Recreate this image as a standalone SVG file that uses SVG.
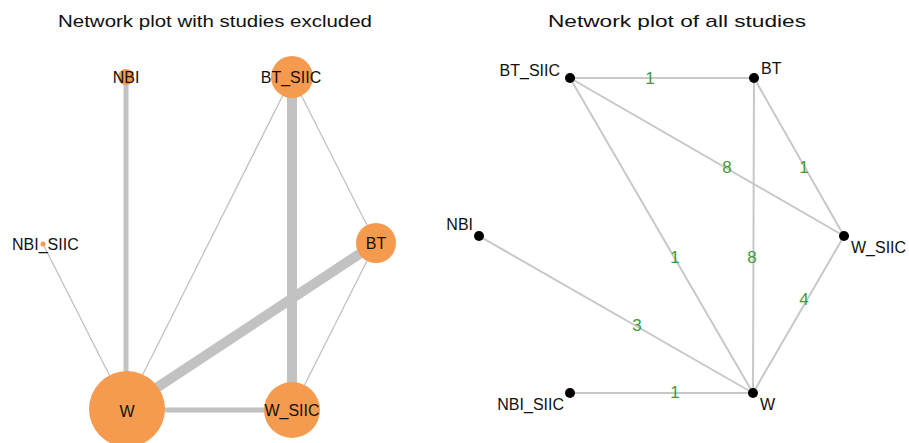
<svg xmlns="http://www.w3.org/2000/svg" width="909" height="443" viewBox="0 0 909 443">
<style>
text{font-family:"Liberation Sans",Arial,sans-serif;fill:#111}
.title{font-size:17px;text-anchor:middle}
.lbl{font-size:16px}
.c{text-anchor:middle}
.e{stroke:#c2c2c2;fill:none;stroke-linecap:butt}
.e2{stroke:#c8c8c8;stroke-width:2;fill:none}
.n{fill:#f59b50}
.d{fill:#000}
.num{font-size:17px;fill:#3d9b3d;text-anchor:middle}
</style>
<rect width="909" height="443" fill="#fff"/>
<text class="title" x="215" y="27" textLength="314" lengthAdjust="spacingAndGlyphs">Network plot with studies excluded</text>
<text class="title" x="677" y="27" textLength="258" lengthAdjust="spacingAndGlyphs">Network plot of all studies</text>

<g id="connectors-left">
<line class="e" x1="126" y1="77" x2="126" y2="408" stroke-width="5"/>
<line class="e" x1="292" y1="77" x2="292" y2="410" stroke-width="10"/>
<line class="e" x1="376" y1="243" x2="126" y2="408" stroke-width="10"/>
<line class="e" x1="126" y1="410" x2="292" y2="410" stroke-width="5"/>
<line class="e" x1="43" y1="244" x2="126" y2="408" stroke-width="1.3"/>
<line class="e" x1="292" y1="77" x2="126" y2="408" stroke-width="1.3"/>
<line class="e" x1="292" y1="77" x2="376" y2="243" stroke-width="1.3"/>
<line class="e" x1="376" y1="243" x2="292" y2="410" stroke-width="1.3"/>
</g>
<g id="L-NBI"><circle class="n" cx="126" cy="77" r="8"/><text class="lbl c" x="126" y="83">NBI</text></g>
<g id="L-BT_SIIC"><circle class="n" cx="292" cy="77" r="21"/><text class="lbl c" x="291" y="83">BT_SIIC</text></g>
<g id="L-BT"><circle class="n" cx="376" cy="243" r="20"/><text class="lbl c" x="376" y="249">BT</text></g>
<g id="L-NBI_SIIC"><circle class="n" cx="43" cy="244" r="2.5"/><text class="lbl" x="12" y="250">NBI_SIIC</text></g>
<g id="L-W"><circle class="n" cx="127" cy="409" r="38"/><text class="lbl c" x="127" y="417">W</text></g>
<g id="L-W_SIIC"><circle class="n" cx="292" cy="410" r="28"/><text class="lbl c" x="292" y="416">W_SIIC</text></g>

<g id="connectors-right">
<line class="e2" x1="570" y1="78" x2="754" y2="78"/>
<line class="e2" x1="570" y1="78" x2="844" y2="236"/>
<line class="e2" x1="570" y1="78" x2="753" y2="393"/>
<line class="e2" x1="754" y1="78" x2="844" y2="236"/>
<line class="e2" x1="754" y1="78" x2="753" y2="393"/>
<line class="e2" x1="479" y1="236" x2="753" y2="393"/>
<line class="e2" x1="570" y1="393" x2="753" y2="393"/>
<line class="e2" x1="844" y1="236" x2="753" y2="393"/>
<text class="num" x="650" y="84">1</text>
<text class="num" x="727" y="173">8</text>
<text class="num" x="804" y="173">1</text>
<text class="num" x="675" y="263">1</text>
<text class="num" x="752" y="263">8</text>
<text class="num" x="804" y="305">4</text>
<text class="num" x="637" y="331">3</text>
<text class="num" x="675" y="398">1</text>
</g>
<g id="R-BT_SIIC"><circle class="d" cx="570" cy="78" r="5"/><text class="lbl" x="560" y="76" text-anchor="end">BT_SIIC</text></g>
<g id="R-BT"><circle class="d" cx="754" cy="78" r="5"/><text class="lbl" x="761" y="74">BT</text></g>
<g id="R-NBI"><circle class="d" cx="479" cy="236" r="5"/><text class="lbl" x="473" y="230" text-anchor="end">NBI</text></g>
<g id="R-W_SIIC"><circle class="d" cx="844" cy="236" r="5"/><text class="lbl" x="851" y="253">W_SIIC</text></g>
<g id="R-NBI_SIIC"><circle class="d" cx="570" cy="393" r="5"/><text class="lbl" x="564" y="410" text-anchor="end">NBI_SIIC</text></g>
<g id="R-W"><circle class="d" cx="753" cy="393" r="5"/><text class="lbl" x="760" y="410">W</text></g>
</svg>
